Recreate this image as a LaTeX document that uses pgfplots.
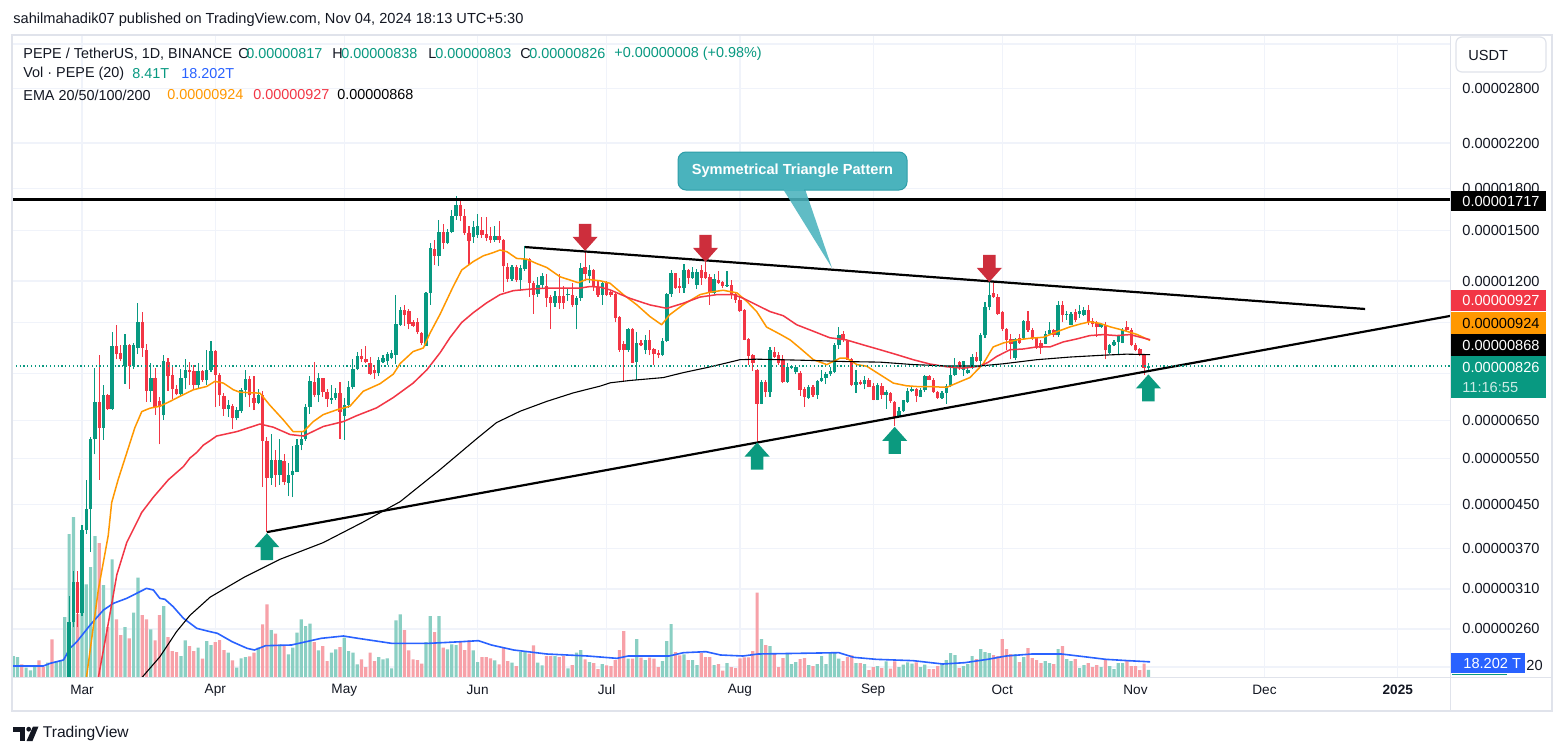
\documentclass[border=0pt]{standalone}
\usepackage{pgfplots}
\pgfplotsset{compat=1.18}
\usepackage{pgfplotstable}
\usepackage{fontspec}
\setmainfont{Liberation Sans}
\definecolor{tvup}{HTML}{089981}
\definecolor{tvdn}{HTML}{F23645}
\definecolor{volup}{HTML}{8ACFC3}
\definecolor{voldn}{HTML}{F7A1A8}
\definecolor{emaor}{HTML}{FF9800}
\definecolor{emared}{HTML}{F23645}
\definecolor{volma}{HTML}{2962FF}
\definecolor{gridc}{HTML}{F0F3FA}
\definecolor{framec}{HTML}{E0E3EB}
\definecolor{txt}{HTML}{131722}
\definecolor{arrred}{HTML}{CD2E3C}
\definecolor{arrgreen}{HTML}{0B9A7F}
\definecolor{callfill}{HTML}{4AB3BD}
\definecolor{calldraw}{HTML}{2E9EA9}
\newcommand{\lblfont}{\fontsize{7.3}{8.5}\selectfont}
\newcommand{\tvdnarr}[2]{\fill[arrred] (axis cs:#1,#2) -- ++(-6.25pt,7pt) -- ++(3.15pt,0pt) -- ++(0pt,6.5pt) -- ++(6.2pt,0pt) -- ++(0pt,-6.5pt) -- ++(3.15pt,0pt) -- cycle;}
\newcommand{\tvuparr}[2]{\fill[arrgreen] (axis cs:#1,#2) -- ++(-6.25pt,-7pt) -- ++(3.15pt,0pt) -- ++(0pt,-6.5pt) -- ++(6.2pt,0pt) -- ++(0pt,6.5pt) -- ++(3.15pt,0pt) -- cycle;}

\pgfplotstableread{
d o h l c v
-16 105 110 102 108 25.2
-15 108 112 106 110 24
-14 110 111 105 106 15.2
-13 106 109 105 108 11.2
-12 108 110 107 109 8
-11 109 113 108 112 12
-10 112 113 106 107 20
-9 107 108 104 105 12
-8 105 110 104 109 17.2
-7 109 110 100 102 45.2
-6 102 108 101 106 19.2
-5 106 112 105 111 20
-4 111 150 110 145 72
-3 145 300 140 268 171.6
-2 268 335 262 320 192
-1 320 336 262 279 75.6
0 279 410 275 402 111.2
1 402 501 395 440 111.2
2 440 604 365 598 132
3 598 818 560 704 169.2
4 704 866 501 630 160.8
5 630 760 597 727 110.4
6 727 730 680 683 60
7 683 960 680 900 141.2
8 900 990 850 870 69.2
9 875 905 845 850 50.4
10 826 950 764 905 60
11 905 910 747 826 46.4
12 826 915 815 905 77.2
13 895 1090 870 1000 119.2
14 1000 1045 860 895 74.4
15 885 910 706 740 69.2
16 740 838 706 785 57.2
17 785 820 666 690 44
18 708 720 585 690 74.4
19 665 866 652 845 85.2
20 840 855 740 790 48
21 793 826 715 745 31.2
22 745 760 726 730 30
23 730 815 722 785 25.2
24 785 852 745 812 44
25 812 840 760 804 37.2
26 808 830 745 760 31.2
27 760 835 750 808 35.2
28 808 812 770 775 22
29 775 885 760 812 43.2
30 812 920 805 881 38.4
31 881 885 690 795 42
32 795 800 693 727 44.4
33 725 735 663 683 32.4
34 683 712 660 695 29.2
35 692 700 625 657 20
36 657 690 650 680 11.2
37 678 750 672 744 22.4
38 744 810 720 779 24
39 779 790 690 726 24.8
40 718 790 680 702 29.2
41 702 745 698 728 35.2
42 728 740 486 594 63.2
43 594 605 398 505 87.2
44 505 612 490 546 56.4
45 546 570 485 512 52
46 512 600 490 546 39.2
47 543 560 490 495 37.2
48 494 540 466 512 27.2
49 512 580 464 520 35.2
50 519 600 518 584 53.2
51 584 620 570 598 69.2
52 598 700 595 690 61.2
53 690 790 670 772 64
54 770 840 720 726 42
55 726 800 705 782 32
56 782 785 722 737 37.2
57 737 745 690 714 19.2
58 712 760 700 716 29.2
59 716 750 712 735 33.2
60 735 770 600 676 36
61 664 718 597 696 47.2
62 696 772 688 752 31.2
63 752 850 748 814 29.2
64 814 880 810 864 15.2
65 864 890 840 850 21.2
66 850 900 835 840 12
67 836 860 795 798 29.2
68 812 830 780 800 19.2
69 800 860 790 849 24
70 840 865 835 856 21.2
71 843 880 830 872 22.4
72 855 885 850 873 10.4
73 867 1128 832 992 68
74 990 1070 985 1057 75.2
75 1055 1080 985 1035 56.4
76 1050 1060 970 995 32
77 1000 1010 980 985 21.2
78 1000 1020 950 958 20.4
79 955 960 905 915 16
80 902 1145 900 1140 42
81 1140 1420 1082 1385 73.2
82 1380 1440 1290 1340 54
83 1340 1570 1280 1490 73.2
84 1490 1540 1380 1420 35.2
85 1420 1510 1410 1490 33.2
86 1490 1640 1480 1600 39.2
87 1598 1740 1570 1675 38.4
88 1675 1706 1560 1595 43.2
89 1595 1650 1470 1480 32.4
90 1480 1530 1290 1430 44
91 1455 1560 1420 1520 32
92 1470 1610 1450 1530 18
93 1500 1590 1450 1470 24
94 1475 1590 1430 1450 24
95 1460 1520 1420 1440 22.4
96 1440 1525 1425 1460 20
97 1460 1560 1420 1435 15.2
98 1440 1445 1145 1280 35.2
99 1275 1300 1195 1210 19.2
100 1210 1290 1200 1275 17.2
101 1275 1285 1195 1205 13.2
102 1205 1290 1150 1270 30
103 1265 1400 1255 1320 30.4
104 1320 1330 1120 1190 28
105 1190 1200 1040 1130 38
106 1135 1220 1120 1180 17.2
107 1180 1245 1165 1225 14
108 1175 1240 1070 1115 25.2
109 1120 1130 970 1090 25.2
110 1090 1150 1070 1125 25.2
111 1125 1240 1060 1090 24
112 1125 1175 1060 1090 25.2
113 1128 1160 1100 1132 10.4
114 1130 1190 1070 1080 14.4
115 1080 1125 970 1115 29.2
116 1115 1300 1100 1270 32.4
117 1275 1370 1200 1240 21.2
118 1225 1290 1190 1258 18
119 1259 1265 1150 1170 16.8
120 1170 1200 1120 1130 9.6
121 1130 1195 1080 1190 15.6
122 1190 1200 1125 1130 14
123 1145 1150 1120 1130 13.2
124 1135 1140 1000 1020 20.4
125 1025 1030 880 887 32.4
126 910 920 770 887 55.2
127 887 975 880 970 22
128 970 975 835 837 22
129 840 960 777 912 45.6
130 912 925 900 905 23.2
131 887 945 870 926 20.4
132 926 968 865 887 23.2
133 890 895 830 870 22
134 875 885 855 868 12
135 868 935 862 922 19.2
136 922 1140 918 1135 43.2
137 1135 1262 1120 1242 63.6
138 1242 1245 1160 1165 30
139 1175 1215 1140 1165 26
140 1165 1295 1140 1262 27.2
141 1262 1265 1185 1215 20.4
142 1215 1275 1210 1250 20.4
143 1180 1265 1160 1250 14.4
144 1262 1290 1180 1218 28.8
145 1250 1305 1210 1215 24
146 1220 1240 1080 1138 24
147 1140 1240 1135 1210 14.4
148 1205 1255 1185 1190 15.6
149 1195 1200 1165 1175 7.6
150 1175 1255 1170 1180 16.8
151 1180 1205 1110 1130 12
152 1135 1140 1090 1105 10.8
153 1105 1130 1048 1050 22.4
154 1055 1060 924 926 23.6
155 930 932 830 862 23.6
156 866 870 808 837 31.2
157 812 816 592 700 101.2
158 700 775 698 771 45.6
159 771 777 720 736 38.4
160 736 896 720 885 37.2
161 880 896 855 860 28.8
162 865 877 830 835 12
163 850 866 766 771 22.8
164 771 835 768 824 28.8
165 820 830 815 825 15.6
166 805 830 796 822 18
167 800 808 725 744 21.6
168 748 752 690 720 22.8
169 718 760 715 752 14.4
170 752 760 722 726 13.2
171 726 775 715 772 15.6
172 772 812 770 783 25.2
173 783 805 763 796 15.6
174 796 823 790 808 30
175 805 912 800 906 30
176 906 980 890 946 22
177 952 962 918 926 19.2
178 920 926 847 849 24
179 852 856 755 760 26
180 760 812 735 770 16.8
181 770 775 760 762 16.8
182 762 790 745 777 15.6
183 777 785 752 754 8.4
184 758 765 710 712 12
185 712 765 710 760 13.2
186 758 765 715 726 10.8
187 726 742 685 736 18.8
188 733 738 702 708 10
189 705 708 635 660 18.8
190 662 690 660 678 12
191 678 712 675 710 14.8
192 705 750 702 740 17.6
193 740 756 736 748 16
194 745 750 705 725 17.6
195 722 750 720 744 12
196 744 795 738 790 14.8
197 790 795 775 777 9.6
198 777 785 735 737 9.6
199 737 740 715 718 13.2
200 718 740 715 735 16.8
201 735 762 700 758 20.4
202 758 822 752 795 28.8
203 795 856 792 822 26.4
204 840 845 812 822 10.8
205 812 845 790 843 13.2
206 800 820 798 812 15.6
207 818 870 815 860 25.2
208 860 880 842 845 21.6
209 845 955 824 945 33.6
210 945 1095 935 1070 30
211 1070 1195 1055 1130 28.8
212 1140 1200 1115 1120 26.4
213 1120 1135 1035 1040 25.2
214 1045 1050 965 970 45.6
215 970 975 887 925 33.6
216 930 950 850 910 27.6
217 855 935 848 930 27.6
218 935 950 910 915 18
219 935 1010 928 1005 24
220 1005 1050 960 968 34.8
221 968 975 925 936 22.8
222 936 940 890 895 20.4
223 915 925 872 893 16.8
224 910 962 908 950 19.2
225 950 1000 945 966 16.8
226 966 972 938 948 15.6
227 945 1098 940 1080 33.6
228 1080 1098 1000 1035 37.2
229 1035 1050 1010 1040 21.6
230 990 1045 987 1038 19.2
231 1045 1060 1000 1010 21.6
232 1040 1080 1020 1050 10.8
233 1035 1070 1030 1057 14.4
234 1057 1080 990 1000 16.8
235 1005 1020 980 992 12
236 998 1005 940 980 14.4
237 980 996 975 994 12
238 990 1000 850 885 21.6
239 874 908 870 904 13.2
240 904 926 900 918 9.6
241 918 945 866 942 16.8
242 915 975 912 968 16.8
243 980 1005 962 968 20.4
244 968 975 900 905 13.2
245 905 912 882 887 13.2
246 890 895 862 866 8.4
247 866 870 795 817 16
248 817 838 803 826 8.41
}\ohlc

\pgfplotsset{
  tvbase/.style={scale only axis, width=719pt, height=321pt,
    at={(6pt,-338.5pt)}, anchor=south west,
    xmin=-16.279, xmax=318.14},
  candle/.style 2 args={draw=none, mark=none, error bars/.cd, y dir=plus, y explicit, error mark=none,
    error bar style={draw=#1, line width=#2}},
}

\begin{document}
\begin{tikzpicture}
\fill[white] (0,0) rectangle (782pt,-377.5pt);
\path[use as bounding box] (0,0) rectangle (782pt,-377.5pt);

% ---------- grid and tick labels ----------
\begin{axis}[tvbase, ymode=log, ymin=210.5, ymax=3538,
  ytick={220,260,310,370,450,550,650,800,1000,1200,1500,1800,2200,2800,3400},
  yticklabels={,0.00000260,0.00000310,0.00000370,0.00000450,0.00000550,0.00000650,,,0.00001200,0.00001500,0.00001800,0.00002200,0.00002800,},
  yticklabel pos=right,
  yticklabel style={anchor=west, inner sep=0pt, xshift=6pt, font=\lblfont, text=txt},
  xtick={0,31,61,92,122,153,184,214,245,275,306},
  xticklabels={Mar,Apr,May,Jun,Jul,Aug,Sep,Oct,Nov,Dec,{\textbf{2025}}},
  xticklabel style={anchor=center, inner sep=0pt, yshift=-6.5pt, font=\fontsize{6.8}{8}\selectfont, text=txt},
  grid=major, grid style={gridc, line width=0.6pt},
  axis line style={draw=none}, major tick length=0pt]
\addplot[draw=none] coordinates {(0,1000)};
\end{axis}

% ---------- volume ----------
\begin{axis}[tvbase, hide axis, ymin=0, ymax=770.4]
\addplot[ybar, bar width=1.6pt, bar shift=0pt, fill=volup, draw=none]
  table[x=d, y expr={\thisrow{c}<\thisrow{o} ? nan : \thisrow{v}}]{\ohlc};
\addplot[ybar, bar width=1.6pt, bar shift=0pt, fill=voldn, draw=none]
  table[x=d, y expr={\thisrow{c}<\thisrow{o} ? \thisrow{v} : nan}]{\ohlc};
\addplot[volma, line width=0.8pt, line join=round] coordinates {
(-16.3,13.2) (-9,13.2) (-7.4,16.4) (-4.3,20.4) (-2.8,34.4) (-1.2,42.4) (1.9,62.4) (5,80.4) (7.3,88.4) (10.4,94.4) (12.7,100.4) (15,106.4) (16.6,104.4) (18.1,94.4) (19.3,93.2) (21.2,84.4) (23.6,70.4) (26.7,58.4) (29.8,54.4) (31.5,52.4) (34.9,42.4) (38.4,34.4) (40.1,32.4) (42.7,37.6) (48.7,38.4) (55.6,46.4) (60.8,49.2) (64.2,46.4) (72,40.4) (80.6,40.4) (88.3,42.4) (92.2,43.6) (95.2,38.4) (100.4,32.4) (108.1,27.6) (117.6,25.2) (124.4,22.4) (127,25.2) (136.5,25.2) (139.9,29.2) (145.1,30.4) (148.5,26.4) (153.7,25.2) (157.2,27.6) (176,29.2) (179.5,23.6) (184.7,21.2) (193.3,19.6) (200.2,15.6) (205.3,17.2) (210.6,21.2) (214.9,25.2) (220.9,27.6) (227.8,27.6) (233,24.4) (238.1,21.2) (243.3,19.6) (248.4,18.2)};
\end{axis}

% ---------- price data ----------
\begin{axis}[tvbase, hide axis, ymode=log, ymin=210.5, ymax=3538, clip=true]
% candles: wicks
\addplot[candle={tvup}{0.55pt}]
  table[x=d, y expr={\thisrow{c}<\thisrow{o} ? nan : \thisrow{l}}, y error plus expr={\thisrow{h}-\thisrow{l}}]{\ohlc};
\addplot[candle={tvdn}{0.55pt}]
  table[x=d, y expr={\thisrow{c}<\thisrow{o} ? \thisrow{l} : nan}, y error plus expr={\thisrow{h}-\thisrow{l}}]{\ohlc};
% candles: bodies
\addplot[candle={tvup}{1.7pt}]
  table[x=d, y expr={\thisrow{c}<\thisrow{o} ? nan : \thisrow{o}}, y error plus expr={abs(\thisrow{c}-\thisrow{o})}]{\ohlc};
\addplot[candle={tvdn}{1.7pt}]
  table[x=d, y expr={\thisrow{c}<\thisrow{o} ? \thisrow{c} : nan}, y error plus expr={abs(\thisrow{o}-\thisrow{c})}]{\ohlc};

% EMA 20
\addplot[emaor, line width=0.75pt, line join=round] coordinates {
(0.5,195) (1.1,212) (3.8,309) (6.1,392) (6.9,453) (8.4,501) (12.3,630) (13.9,676) (15.8,686) (18.1,692) (20.5,707) (22.8,723) (25.9,744) (29,755) (30.9,772) (32.9,766) (35.2,744) (36.7,736) (41.4,733) (43.7,695) (46.8,652) (49.1,619) (51.5,619) (53.8,647) (56.1,667) (59.2,681) (62.3,692) (65.4,739) (69.3,764) (72.4,797) (74,835) (77,880) (79.4,894) (80.9,953) (83.3,1038) (86.3,1170) (88.3,1259) (91,1307) (93.3,1340) (95.7,1360) (97.2,1375) (98.8,1365) (101.1,1325) (103.4,1321) (105.7,1296) (108.1,1273) (111.2,1222) (113.5,1205) (115.4,1191) (117.4,1209) (120.5,1201) (122.8,1188) (125.9,1130) (129,1081) (132.1,1026) (134.8,990) (136.7,1035) (139.8,1081) (143.7,1130) (146,1142) (149.1,1152) (152.3,1139) (154.6,1097) (156.9,1049) (159.2,980) (162.3,950) (164.7,926) (167,893) (170.1,849) (173.2,831) (176.3,855) (177.8,855) (180.2,831) (182.5,825) (185.6,795) (188.7,766) (191.8,757) (194.9,754) (198,754) (201.1,752) (204.2,771) (206.5,785) (209.6,834) (211.9,898) (214.3,914) (217.4,926) (220.5,933) (223.6,937) (226.7,960) (229.8,981) (232.1,993) (234.4,1003) (236.7,996) (239.1,981) (242.2,966) (245.3,949) (248.4,924)};
% EMA 50
\addplot[emared, line width=0.75pt, line join=round] coordinates {
(3,200) (3.8,210) (6.1,266) (8.1,330) (10.4,380) (13.9,434) (16.6,464) (20.1,501) (23.6,531) (25.1,551) (26.7,565) (28.2,583) (29.8,595) (31.3,607) (36,619) (41.4,640) (44.5,631) (48.4,611) (51.5,607) (56.1,633) (60.8,647) (63.9,664) (68.5,687) (72.4,719) (74,735) (77,766) (80.2,812) (83.3,876) (85.6,936) (88.3,1000) (91,1044) (94.1,1090) (97.2,1130) (100.3,1150) (104.2,1158) (108.1,1163) (111.9,1163) (115.8,1163) (118.1,1171) (120.5,1168) (122.8,1154) (127.4,1112) (132.1,1080) (136,1064) (139.8,1088) (143.7,1118) (147.6,1130) (151.5,1130) (153.8,1112) (156.9,1080) (160,1049) (163.1,1030) (166.2,990) (170.1,962) (173.9,935) (177.8,926) (181.7,906) (185.6,887) (189.5,868) (193.3,849) (197.2,833) (201.1,823) (204.9,818) (208.8,825) (210.8,840) (212.7,861) (215.8,887) (218.9,890) (222,898) (225.1,898) (228.2,918) (231.3,930) (234.4,944) (237.5,948) (240.6,944) (243.7,948) (248.4,927)};
% EMA 200
\addplot[black, line width=0.55pt, line join=round] coordinates {
(12,200) (13.5,208) (18.1,230) (22,257) (25.1,276) (29.8,299) (37.9,327) (46,353) (56.1,380) (65.4,416) (74,455) (83.3,524) (91.8,600) (96.4,644) (101.9,677) (108.1,707) (114.3,734) (120.5,756) (122.8,767) (127.4,775) (135.2,785) (139.8,802) (145.3,820) (149.1,834) (153,849) (156.9,851) (162.3,849) (170.1,846) (177.8,842) (185.6,840) (193.3,831) (201.1,826) (208.8,826) (214.3,834) (222,849) (229.8,859) (237.5,866) (242.9,870) (248.4,868)};

% drawings
\addplot[black, line width=1.1pt] coordinates {(-16.279,1717) (318.14,1717)};
\addplot[black, line width=1.1pt] coordinates {(103,1393) (298.4,1061)};
\addplot[black, line width=1.1pt] coordinates {(43,398) (318.14,1029)};
\addplot[tvup, line width=0.55pt, dash pattern=on 0.6pt off 1.3pt] coordinates {(-16.279,826) (318.14,826)};

% arrows
\tvdnarr{117}{1370}
\tvdnarr{145}{1305}
\tvdnarr{211}{1195}
\tvuparr{43}{396}
\tvuparr{157}{590}
\tvuparr{189}{632}
\tvuparr{248}{796}
\end{axis}

% ---------- annotations in pixel units ----------
\begin{scope}[x=0.5pt, y=-0.5pt]
% frame
\draw[framec, line width=0.6pt] (12,35) rectangle (1552,711);
\draw[framec, line width=0.5pt] (12,677) -- (1552,677);
\draw[framec, line width=0.5pt] (1450,35) -- (1450,711);
% callout
\fill[callfill, opacity=0.88] (783,189) -- (832,268) -- (805,189) -- cycle;
\draw[calldraw, line width=0.5pt, fill=callfill, rounded corners=4pt] (678,152) rectangle (907,190);
\fill[callfill] (784,188) -- (804,188) -- (804,191) -- (784,191) -- cycle;
\node[white, inner sep=0pt, font=\bfseries\fontsize{7.3}{8}\selectfont] at (792.5,171) {Symmetrical Triangle Pattern};
% header
\node[anchor=west, inner sep=0pt, text=txt, font=\fontsize{7.3}{8}\selectfont] at (13,20) {sahilmahadik07 published on TradingView.com, Nov 04, 2024 18:13 UTC+5:30};
\begin{scope}[every node/.style={anchor=west, inner sep=0pt, font=\fontsize{7.2}{8}\selectfont}]
\node[text=txt] at (23,54) {PEPE / TetherUS, 1D, BINANCE};
\node[text=txt] at (238,54) {O};
\node[text=tvup] at (246,54) {0.00000817};
\node[text=txt] at (332,54) {H};
\node[text=tvup] at (341,54) {0.00000838};
\node[text=txt] at (428,54) {L};
\node[text=tvup] at (435,54) {0.00000803};
\node[text=txt] at (520,54) {C};
\node[text=tvup] at (529,54) {0.00000826};
\node[text=tvup] at (614,54) {+0.00000008 (+0.98\%)};
\node[text=txt] at (23,74) {Vol · PEPE (20)};
\node[text=tvup] at (132,74) {8.41T};
\node[text=volma] at (181,74) {18.202T};
\node[text=txt] at (23,95) {EMA 20/50/100/200};
\node[text=emaor] at (167,95) {0.00000924};
\node[text=emared] at (253,95) {0.00000927};
\node[text=black] at (337,95) {0.00000868};
\end{scope}
% USDT box
\draw[framec, line width=0.6pt, fill=white, rounded corners=3pt] (1456,37) rectangle (1546,72);
\node[anchor=west, inner sep=0pt, text=txt, font=\lblfont] at (1468,55) {USDT};
% price boxes
\begin{scope}[every node/.style={anchor=west, inner sep=0pt, font=\lblfont}]
\fill[black] (1451,191) rectangle (1546,211);
\node[white] at (1462,201) {0.00001717};
\fill[tvdn] (1451,290) rectangle (1546,311);
\node[white] at (1462,300.5) {0.00000927};
\fill[emaor] (1451,312) rectangle (1546,334);
\node[black] at (1462,323) {0.00000924};
\fill[black] (1451,334) rectangle (1546,356);
\node[white] at (1462,345) {0.00000868};
\fill[tvup] (1451,356) rectangle (1546,398);
\node[white] at (1462,367) {0.00000826};
\node[white!80!tvup] at (1462,387) {11:16:55};
\fill[volma] (1451,653) rectangle (1525,673);
\draw[tvup, line width=0.6pt] (1452,674.5) -- (1507,674.5);
\node[white] at (1463,663) {18.202 T};
\node[text=txt] at (1526,665) {20};
\end{scope}
% footer logo
\fill[txt] (13,726.5) rectangle (25,731.5);
\fill[txt] (19.5,726.5) rectangle (25,741);
\fill[txt] (28.7,729.2) circle (2.4);
\fill[txt] (33,726.5) -- (38.5,726.5) -- (32.5,741) -- (26.5,741) -- cycle;
\node[anchor=west, inner sep=0pt, text=txt, font=\fontsize{7.8}{9}\selectfont] at (42.5,733.5) {TradingView};
\end{scope}
\end{tikzpicture}
\end{document}
